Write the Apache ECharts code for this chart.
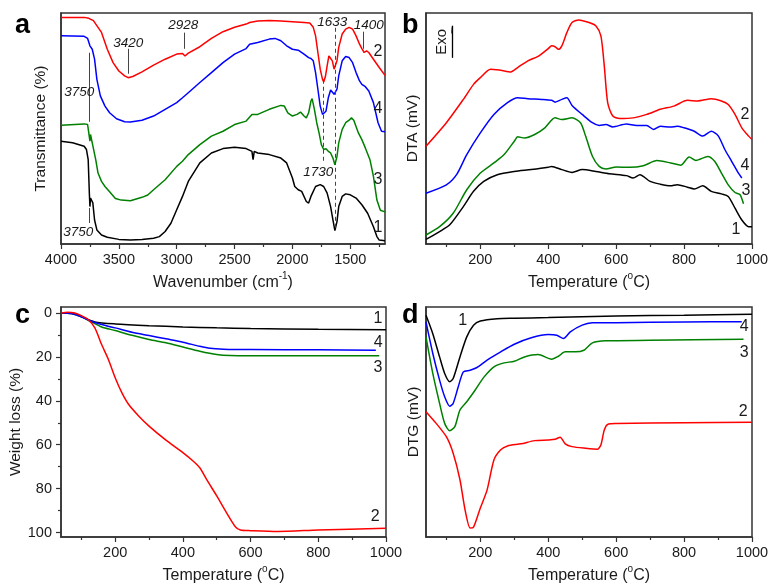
<!DOCTYPE html>
<html>
<head>
<meta charset="utf-8">
<script src="https://cdn.jsdelivr.net/npm/echarts@6/dist/echarts.min.js"></script>
<style>
  html, body { margin: 0; padding: 0; background: #fff; }
  #chart { width: 769px; height: 587px; }
</style>
</head>
<body>
<div id="chart"></div>
<script>
// ---------- (a) FTIR spectra: [wavenumber (cm-1), transmittance (a.u.)] ----------
const ftir1 = [[4000,44.5],[3900,43.8],[3800,42.3],[3780,40.9],[3765,36.5],[3755,22.0],[3750,16.2],[3745,19.9],[3735,20.6],[3725,17.8],[3710,10.4],[3690,6.1],[3650,3.9],[3600,2.9],[3500,2.0],[3400,1.7],[3300,1.9],[3200,2.5],[3150,3.2],[3100,5.4],[3050,9.0],[3000,14.8],[2950,20.6],[2900,27.1],[2800,35.1],[2700,39.4],[2600,41.3],[2500,41.9],[2400,41.3],[2350,40.1],[2340,36.5],[2330,40.1],[2300,39.4],[2200,38.7],[2100,37.2],[2050,35.1],[2000,28.6],[1980,24.9],[1950,23.5],[1920,22.8],[1880,18.4],[1860,17.7],[1840,20.6],[1800,24.9],[1760,25.7],[1730,24.9],[1700,22.0],[1670,16.2],[1650,10.4],[1633,5.8],[1615,9.7],[1600,16.2],[1570,20.6],[1540,21.7],[1500,21.3],[1450,19.9],[1400,17.0],[1350,13.3],[1300,7.5],[1270,3.2],[1250,1.7],[1200,1.4]];
const ftir2 = [[4000,98.1],[3800,98.1],[3760,97.7],[3720,96.7],[3680,93.8],[3650,91.6],[3600,84.3],[3550,78.5],[3500,74.9],[3450,72.8],[3420,72.0],[3380,72.5],[3300,74.5],[3200,77.4],[3100,80.0],[3000,82.2],[2950,82.5],[2928,81.4],[2900,82.6],[2800,85.4],[2700,89.0],[2600,91.9],[2500,93.8],[2400,95.2],[2370,95.9],[2300,96.5],[2200,96.7],[2100,96.5],[2000,96.2],[1900,95.9],[1850,95.7],[1820,93.8],[1800,90.1],[1780,82.9],[1760,75.7],[1740,71.3],[1730,70.1],[1715,72.5],[1700,77.1],[1685,81.4],[1670,81.7],[1655,79.3],[1640,75.7],[1630,75.4],[1615,79.3],[1600,85.1],[1570,90.9],[1540,93.0],[1510,93.8],[1480,93.0],[1450,90.1],[1420,86.5],[1400,84.6],[1380,82.9],[1360,83.6],[1340,82.9],[1300,80.0],[1250,76.4],[1200,73.0]];
const ftir3 = [[4000,51.4],[3800,52.0],[3770,51.7],[3760,48.1],[3750,44.5],[3745,47.4],[3730,43.8],[3700,36.5],[3680,30.7],[3650,27.1],[3620,24.9],[3580,22.6],[3530,19.7],[3480,19.0],[3400,18.7],[3300,20.2],[3250,21.2],[3200,23.5],[3100,27.8],[3000,33.6],[2950,35.8],[2900,38.7],[2800,43.0],[2700,46.7],[2600,48.8],[2500,51.7],[2400,53.2],[2350,56.1],[2300,56.1],[2200,58.3],[2100,60.0],[2070,59.7],[2040,56.8],[2000,55.4],[1960,56.1],[1930,57.1],[1900,55.4],[1880,54.6],[1860,56.8],[1840,61.9],[1830,62.9],[1810,58.3],[1790,52.5],[1770,48.1],[1750,43.0],[1730,40.9],[1710,41.2],[1690,40.1],[1670,39.4],[1650,37.2],[1633,34.3],[1615,37.9],[1600,43.8],[1570,49.6],[1540,52.5],[1510,53.6],[1490,54.6],[1470,53.6],[1430,48.1],[1400,45.2],[1370,41.6],[1330,36.5],[1300,29.3],[1270,19.0],[1240,14.6],[1200,13.9]];
const ftir4 = [[4000,90.1],[3800,89.9],[3770,89.0],[3750,85.8],[3730,84.3],[3710,80.0],[3690,71.3],[3660,64.1],[3620,59.7],[3580,56.8],[3520,54.2],[3450,52.9],[3400,52.8],[3300,53.6],[3200,55.4],[3100,58.3],[3000,61.2],[2950,63.3],[2900,65.5],[2800,69.9],[2700,74.2],[2600,78.5],[2500,82.2],[2400,84.6],[2370,86.5],[2300,87.2],[2200,88.7],[2150,89.0],[2100,88.0],[2050,85.8],[2000,84.3],[1950,83.9],[1900,82.2],[1860,80.7],[1840,80.3],[1820,79.3],[1800,74.2],[1780,67.0],[1760,59.7],[1740,56.1],[1725,55.4],[1710,57.5],[1690,63.3],[1670,66.7],[1655,67.0],[1640,64.8],[1630,64.1],[1615,67.0],[1600,72.8],[1570,79.3],[1540,81.2],[1510,80.7],[1480,78.5],[1450,74.2],[1420,70.6],[1400,69.1],[1370,68.1],[1340,66.2],[1300,61.2],[1260,52.5],[1230,48.8],[1200,48.6]];

// ---------- (b) DTA: [temperature (°C), signal (a.u.)] ----------
const dta1 = [[40,2.0],[80,5.4],[110,8.3],[150,16.2],[180,22.8],[210,27.1],[250,30.0],[300,31.4],[350,32.2],[400,33.2],[410,33.6],[440,32.2],[470,31.0],[500,32.2],[540,31.4],[580,30.4],[630,29.6],[650,28.6],[670,30.0],[700,27.1],[730,25.9],[760,25.2],[780,25.7],[810,24.6],[830,23.8],[855,25.2],[880,22.8],[910,21.7],[930,20.6],[950,15.5],[970,10.4],[990,7.5],[1000,7.5]];
const dta2 = [[40,42.3],[100,52.5],[150,62.6],[180,69.1],[200,72.0],[230,75.7],[260,75.2],[290,74.5],[310,76.4],[340,79.3],[370,81.2],[400,84.6],[410,85.8],[420,85.4],[430,84.3],[440,85.8],[455,91.6],[470,95.9],[490,97.0],[520,95.9],[540,94.5],[555,90.1],[565,77.1],[575,61.2],[590,55.4],[610,54.3],[650,54.6],[690,56.1],[730,58.3],[770,59.7],[810,62.2],[840,61.9],[880,62.9],[910,61.9],[930,60.4],[950,56.1],[970,50.3],[990,46.7],[1000,45.2]];
const dta3 = [[40,3.9],[80,7.5],[120,13.3],[160,23.5],[200,30.7],[240,35.1],[270,38.7],[300,44.5],[310,46.4],[330,45.9],[360,47.4],[390,50.3],[420,54.6],[440,53.9],[470,54.6],[495,52.5],[510,46.7],[530,38.0],[550,33.6],[570,32.5],[600,33.3],[640,33.2],[680,33.9],[720,36.1],[760,35.1],[790,34.1],[815,37.7],[835,36.2],[870,37.9],[890,35.8],[910,30.7],[930,25.6],[950,22.3],[965,21.3],[975,17.4]];
const dta4 = [[40,22.0],[100,25.6],[130,30.0],[160,38.7],[200,48.1],[240,56.1],[280,61.2],[310,63.3],[340,62.9],[380,62.6],[410,62.2],[420,61.4],[440,62.6],[455,63.3],[470,60.0],[500,56.1],[530,52.5],[550,51.3],[570,51.7],[590,50.7],[630,52.0],[660,51.3],[690,51.3],[710,49.6],[730,51.0],[760,50.6],[780,51.0],[800,50.3],[830,48.8],[855,46.7],[880,48.8],[900,46.9],[920,40.9],[940,35.8],[960,30.7],[970,28.6]];

// ---------- (c) TG weight loss: [temperature (°C), weight loss (%)] ----------
const tg1 = [[40,0],[80,0.3],[110,2.3],[140,4.1],[200,5.0],[300,5.8],[400,6.4],[500,6.8],[600,7.1],[800,7.4],[1000,7.6]];
const tg2 = [[40,0],[60,-0.3],[80,0],[100,1.2],[120,3.0],[140,6.8],[160,14.4],[180,21.2],[200,29.5],[220,36.4],[240,41.7],[270,47.0],[300,51.5],[350,57.9],[400,63.6],[430,67.4],[450,70.5],[470,75.8],[500,83.3],[530,91.2],[555,97.3],[570,98.8],[600,99.1],[680,99.5],[800,98.8],[1000,98.0]];
const tg3 = [[40,0],[70,0.3],[100,1.8],[130,4.1],[160,6.4],[200,8.0],[250,10.2],[300,12.1],[350,13.6],[400,15.5],[450,17.4],[500,18.9],[540,19.4],[600,19.5],[800,19.5],[980,19.5]];
const tg4 = [[40,0],[70,0.3],[100,1.8],[130,3.8],[160,5.3],[200,6.8],[250,8.8],[300,10.3],[350,11.8],[400,13.3],[450,15.2],[480,16.1],[520,16.5],[600,16.7],[800,16.8],[970,17.0]];

// ---------- (d) DTG: [temperature (°C), signal (a.u.)] ----------
const dtg1 = [[40,96.4],[60,88.4],[80,78.3],[95,71.1],[110,67.5],[120,68.9],[140,78.3],[160,87.0],[180,92.1],[200,93.9],[250,94.9],[300,95.1],[400,95.4],[600,96.1],[800,96.4],[1000,96.8]];
const dtg2 = [[40,54.5],[70,49.4],[100,43.6],[120,36.4],[140,24.9],[155,11.8],[170,3.9],[180,4.3],[200,12.6],[220,20.5],[240,33.5],[260,37.9],[280,39.6],[320,40.5],[360,41.9],[400,42.2],[420,42.5],[435,43.4],[450,40.5],[470,39.3],[510,38.6],[545,38.2],[555,40.0],[565,46.5],[575,49.0],[600,49.4],[800,49.7],[1000,49.9]];
const dtg3 = [[40,87.0],[60,71.1],[80,58.1],[95,49.4],[110,46.2],[125,48.0],[140,55.2],[160,58.8],[185,63.9],[210,69.4],[240,74.0],[270,75.7],[300,76.4],[330,78.3],[370,79.3],[410,77.3],[430,78.6],[450,80.5],[480,80.5],[505,81.2],[530,84.4],[570,85.3],[700,85.5],[975,86.0]];
const dtg4 = [[40,93.5],[60,79.8],[80,68.2],[95,61.0],[110,56.9],[120,58.1],[135,65.3],[150,71.8],[170,72.5],[190,73.7],[220,76.9],[260,80.5],[300,83.8],[350,86.6],[400,88.0],[425,87.7],[445,86.3],[465,89.2],[500,92.1],[530,93.1],[600,93.2],[800,93.5],[970,93.6]];

// ---------- tick values ----------
const ftirMajorTicks = [4000, 3500, 3000, 2500, 2000, 1500];
const ftirMinorTicks = [3750, 3250, 2750, 2250, 1750, 1250];
const tempMajorTicks = [200, 400, 600, 800, 1000];
const tempMinorTicks = [100, 300, 500, 700, 900];
const lossMajorTicks = [0, 20, 40, 60, 80, 100];
const lossMinorTicks = [10, 30, 50, 70, 90];

const FONT = '"Liberation Sans", Arial, sans-serif';
const INK = '#1a1a1a';
const FRAME = '#333333';
const C = { black: '#000000', red: '#ff0000', green: '#008000', blue: '#0000ff' };
const plainNumber = v => String(v);

const supRich = {
  t: { fontFamily: FONT, fontSize: 16, color: INK, lineHeight: 20, verticalAlign: 'bottom' },
  s: { fontFamily: FONT, fontSize: 10, color: INK, lineHeight: 9, verticalAlign: 'top' }
};

function xPair(gi, min, max, inverse, major, minor, name) {
  return [{
    type: 'value', gridIndex: gi, position: 'bottom', min, max, inverse,
    axisLine: { show: true, onZero: false, lineStyle: { color: FRAME, width: 1.5 } },
    axisTick: { show: true, inside: false, length: 5, customValues: major, lineStyle: { color: FRAME, width: 1.2 } },
    axisLabel: { show: true, customValues: major, formatter: plainNumber, margin: 8, color: INK, fontFamily: FONT, fontSize: 14.5 },
    splitLine: { show: false },
    name, nameLocation: 'middle', nameGap: 27,
    nameTextStyle: { fontFamily: FONT, fontSize: 16, color: INK, rich: supRich }
  }, {
    type: 'value', gridIndex: gi, position: 'bottom', min, max, inverse,
    axisLine: { show: false, onZero: false },
    axisTick: { show: true, inside: false, length: 3, customValues: minor, lineStyle: { color: FRAME, width: 1.2 } },
    axisLabel: { show: false },
    splitLine: { show: false }
  }];
}

function plainY(gi, name, gap) {
  return {
    type: 'value', gridIndex: gi, position: 'left', min: 0, max: 100,
    axisLine: { show: true, onZero: false, lineStyle: { color: FRAME, width: 1.5 } },
    axisTick: { show: false }, axisLabel: { show: false }, splitLine: { show: false },
    name, nameLocation: 'middle', nameGap: gap,
    nameTextStyle: { fontFamily: FONT, fontSize: 15.5, color: INK }
  };
}

function curve(data, color, xi, yi, smooth, extra) {
  return Object.assign({
    type: 'line', data, xAxisIndex: xi, yAxisIndex: yi,
    showSymbol: false, symbol: 'none', smooth: smooth,
    lineStyle: { color, width: 1.5 }, itemStyle: { color },
    z: 3, silent: true
  }, extra || {});
}

function notes(items, style) {
  return {
    symbol: 'rect', symbolSize: 1, silent: true,
    itemStyle: { color: 'transparent' },
    label: Object.assign({ show: true, position: 'inside', formatter: '{b}', color: INK, fontFamily: FONT }, style),
    data: items.map(n => ({ name: n[2], coord: [n[0], n[1]] }))
  };
}

function segments(items, dashed) {
  return {
    symbol: ['none', 'none'], silent: true, label: { show: false },
    lineStyle: { color: '#444', width: 1, type: dashed ? [4, 3] : 'solid' },
    emphasis: { disabled: true },
    data: items.map(s => [{ coord: [s[0], s[1]] }, { coord: [s[0], s[2]] }])
  };
}

const option = {
  animation: false,
  backgroundColor: '#ffffff',
  grid: [
    { left: 61, top: 13, width: 324, height: 231 },
    { left: 426, top: 13, width: 326, height: 231 },
    { left: 61, top: 307, width: 325, height: 230 },
    { left: 426, top: 307, width: 326, height: 230 }
  ].map(g => Object.assign(g, { show: true, borderColor: FRAME, borderWidth: 1.5, containLabel: false, outerBoundsMode: 'none' })),
  xAxis: [].concat(
    xPair(0, 1200, 4000, true, ftirMajorTicks, ftirMinorTicks, '{t|Wavenumber (cm}{s|-1}{t|)}'),
    xPair(1, 40, 1000, false, tempMajorTicks, tempMinorTicks, '{t|Temperature (}{s|o}{t|C)}'),
    xPair(2, 40, 1000, false, tempMajorTicks, tempMinorTicks, '{t|Temperature (}{s|o}{t|C)}'),
    xPair(3, 40, 1000, false, tempMajorTicks, tempMinorTicks, '{t|Temperature (}{s|o}{t|C)}')
  ),
  yAxis: [
    plainY(0, 'Transmittance (%)', 12),
    plainY(1, 'DTA (mV)', 5),
    {
      type: 'value', gridIndex: 2, position: 'left', min: -2.7, max: 102, inverse: true,
      axisLine: { show: true, onZero: false, lineStyle: { color: FRAME, width: 1.5 } },
      axisTick: { show: true, inside: false, length: 5, customValues: lossMajorTicks, lineStyle: { color: FRAME, width: 1.2 } },
      axisLabel: { show: true, customValues: lossMajorTicks, formatter: plainNumber, margin: 9, color: INK, fontFamily: FONT, fontSize: 14.5 },
      splitLine: { show: false },
      name: 'Weight loss (%)', nameLocation: 'middle', nameGap: 34,
      nameTextStyle: { fontFamily: FONT, fontSize: 15.5, color: INK }
    },
    {
      type: 'value', gridIndex: 2, position: 'left', min: -2.7, max: 102, inverse: true,
      axisLine: { show: false, onZero: false },
      axisTick: { show: true, inside: false, length: 3, customValues: lossMinorTicks, lineStyle: { color: FRAME, width: 1.2 } },
      axisLabel: { show: false }, splitLine: { show: false }
    },
    plainY(3, 'DTG (mV)', 4)
  ],
  graphic: [
    { type: 'text', x: 15, y: 26, style: { text: 'a', fill: '#000', font: 'bold 27px "Liberation Sans", Arial', verticalAlign: 'middle' } },
    { type: 'text', x: 402, y: 26, style: { text: 'b', fill: '#000', font: 'bold 27px "Liberation Sans", Arial', verticalAlign: 'middle' } },
    { type: 'text', x: 15, y: 316, style: { text: 'c', fill: '#000', font: 'bold 27px "Liberation Sans", Arial', verticalAlign: 'middle' } },
    { type: 'text', x: 402, y: 316, style: { text: 'd', fill: '#000', font: 'bold 27px "Liberation Sans", Arial', verticalAlign: 'middle' } }
  ],
  series: [
    // (a) FTIR
    curve(ftir1, C.black, 0, 0, false, {
      markLine: segments([[1730, 71.1, 35.1], [1630, 93.6, 6.1]], true),
      markPoint: notes([[1260, 6.9, '1'], [1260, 27.7, '3'], [1260, 58.8, '4'], [1260, 83.4, '2']], { fontSize: 16 })
    }),
    curve(ftir3, C.green, 0, 0, false),
    curve(ftir4, C.blue, 0, 0, false, {
      markLine: segments([[3420, 84.5, 73.7], [2935, 91.5, 84.5], [1390, 91.9, 84.5], [3755, 82.8, 52.9], [3755, 15.6, 9.1]], false)
    }),
    curve(ftir2, C.red, 0, 0, false, {
      markPoint: notes([[3418, 87.1, '3420'], [2943, 94.5, '2928'], [1655, 95.8, '1633'], [1340, 94.9, '1400'],
        [3842, 65.9, '3750'], [3850, 5.2, '3750'], [1776, 31.2, '1730']], { fontSize: 13.5, fontStyle: 'italic' })
    }),
    // (b) DTA
    curve(dta1, C.black, 2, 1, 0.25, {
      markPoint: notes([[953, 6.1, '1'], [982, 23.0, '3'], [979, 33.9, '4'], [979, 55.9, '2']], { fontSize: 16 })
    }),
    curve(dta3, C.green, 2, 1, 0.25),
    curve(dta4, C.blue, 2, 1, 0.25),
    curve(dta2, C.red, 2, 1, 0.25, {
      markLine: {
        symbol: ['none', 'arrow'], symbolSize: [1, 9], silent: true, label: { show: false },
        lineStyle: { color: '#000', width: 1.3, type: 'solid' },
        itemStyle: { color: '#000' },
        data: [[{ coord: [116, 80.6] }, { coord: [116, 94.5] }]]
      },
      markPoint: notes([[88, 87.5, 'Exo']], { fontSize: 15, rotate: 90 })
    }),
    // (c) TG
    curve(tg1, C.black, 4, 2, 0.25, {
      markPoint: notes([[976, 2.7, '1'], [977, 13.4, '4'], [976, 24.9, '3'], [968, 92.9, '2']], { fontSize: 16 })
    }),
    curve(tg3, C.green, 4, 2, 0.25),
    curve(tg4, C.blue, 4, 2, 0.25),
    curve(tg2, C.red, 4, 2, 0.25),
    // (d) DTG
    curve(dtg1, C.black, 6, 4, 0.25, {
      markPoint: notes([[148, 94.2, '1'], [977, 91.3, '4'], [977, 80.2, '3'], [974, 54.5, '2']], { fontSize: 16 })
    }),
    curve(dtg3, C.green, 6, 4, 0.25),
    curve(dtg4, C.blue, 6, 4, 0.25),
    curve(dtg2, C.red, 6, 4, 0.25)
  ]
};

const chart = echarts.init(document.getElementById('chart'), null, { renderer: 'canvas' });
chart.setOption(option);
</script>
</body>
</html>
